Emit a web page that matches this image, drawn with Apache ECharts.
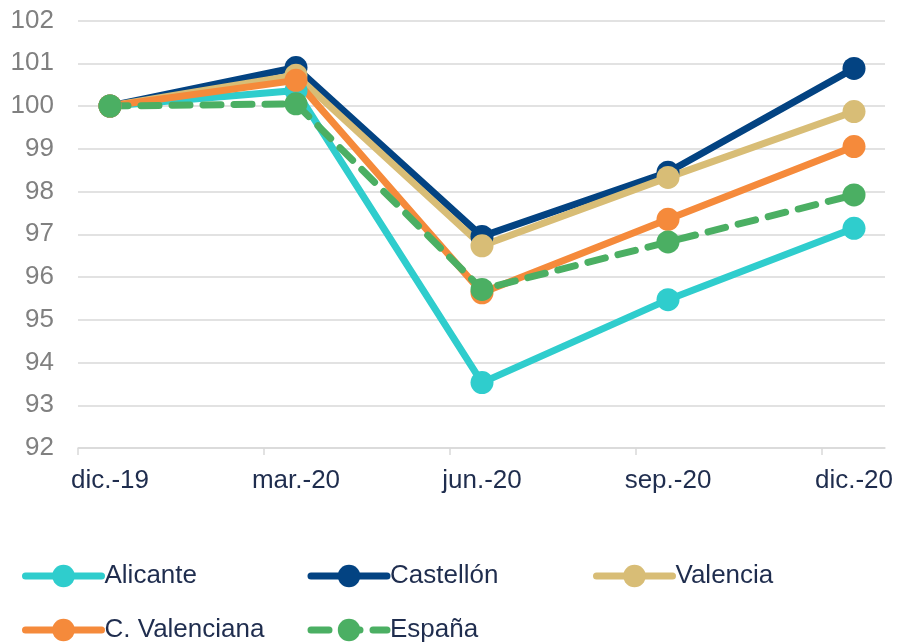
<!DOCTYPE html>
<html>
<head>
<meta charset="utf-8">
<script src="https://cdn.jsdelivr.net/npm/echarts@6/dist/echarts.min.js"></script>
<style>
html,body{margin:0;padding:0;background:#fff;}
#chart{width:897px;height:644px;}
</style>
</head>
<body>
<div id="chart"></div>
<script>
const categories = ['dic.-19', 'mar.-20', 'jun.-20', 'sep.-20', 'dic.-20'];
const alicante = [100, 100.36, 93.53, 95.47, 97.14];
const castellon = [100, 100.9, 96.95, 98.45, 100.88];
const valencia = [100, 100.72, 96.73, 98.33, 99.87];
const cValenciana = [100, 100.6, 95.63, 97.35, 99.05];
const espana = [100, 100.05, 95.71, 96.82, 97.92];
const yTicks = [92, 93, 94, 95, 96, 97, 98, 99, 100, 101, 102];

const seriesDefs = [
  { name: 'Alicante', data: alicante, color: '#2FCDCD', dashed: false },
  { name: 'Castellón', data: castellon, color: '#034382', dashed: false },
  { name: 'Valencia', data: valencia, color: '#D8BD76', dashed: false },
  { name: 'C. Valenciana', data: cValenciana, color: '#F58A3B', dashed: false },
  { name: 'España', data: espana, color: '#4BAF63', dashed: true }
];

const xMin = -32 / 186;
const xMax = 4 + 31 / 186;
const tickVals = categories.map((c, i) => i + xMin);
const labelVals = categories.map((c, i) => i);

const chart = echarts.init(document.getElementById('chart'), null, { renderer: 'canvas' });
const fontFamily = '"Liberation Sans", Arial, sans-serif';
const textColor = '#1F2D4E';

const legendCommon = {
  orient: 'horizontal',
  left: 22,
  padding: 0,
  itemWidth: 76,
  itemHeight: 28,
  itemGap: 0,
  lineStyle: { width: 7, cap: 'round' },
  textStyle: { fontFamily, fontSize: 26, color: textColor, width: 203, lineHeight: 30, padding: [0, 0, 0, -2] }
};

chart.setOption({
  animation: false,
  backgroundColor: '#fff',
  grid: { left: 78, right: 12, top: 20.5, bottom: 196, containLabel: false },
  legend: [
    Object.assign({}, legendCommon, { top: 561, data: ['Alicante', 'Castellón', 'Valencia'] }),
    Object.assign({}, legendCommon, { top: 615, data: ['C. Valenciana', 'España'] })
  ],
  xAxis: {
    type: 'value',
    min: xMin,
    max: xMax,
    axisLine: { show: true, lineStyle: { color: '#D9D9D9', width: 1.5 } },
    axisTick: { show: true, customValues: tickVals, length: 7, lineStyle: { color: '#D9D9D9', width: 1.5 } },
    splitLine: { show: false },
    axisLabel: {
      customValues: labelVals,
      formatter: v => categories[Math.round(v)],
      fontFamily, fontSize: 26, color: textColor, margin: 20
    }
  },
  yAxis: {
    type: 'value',
    min: yTicks[0],
    max: yTicks[yTicks.length - 1],
    interval: 1,
    axisLine: { show: false },
    axisTick: { show: false },
    splitLine: { lineStyle: { color: '#D9D9D9', width: 1.5 } },
    axisLabel: { fontFamily, fontSize: 26, color: '#808080', margin: 24 }
  },
  series: seriesDefs.map(s => ({
    name: s.name,
    type: 'line',
    data: s.data.map((v, i) => [i, v]),
    symbol: 'circle',
    symbolSize: 23,
    color: s.color,
    itemStyle: { color: s.color },
    lineStyle: {
      color: s.color,
      width: 7,
      type: s.dashed ? [18, 13] : 'solid',
      cap: 'round'
    },
    emphasis: { disabled: true }
  }))
});
</script>
</body>
</html>
